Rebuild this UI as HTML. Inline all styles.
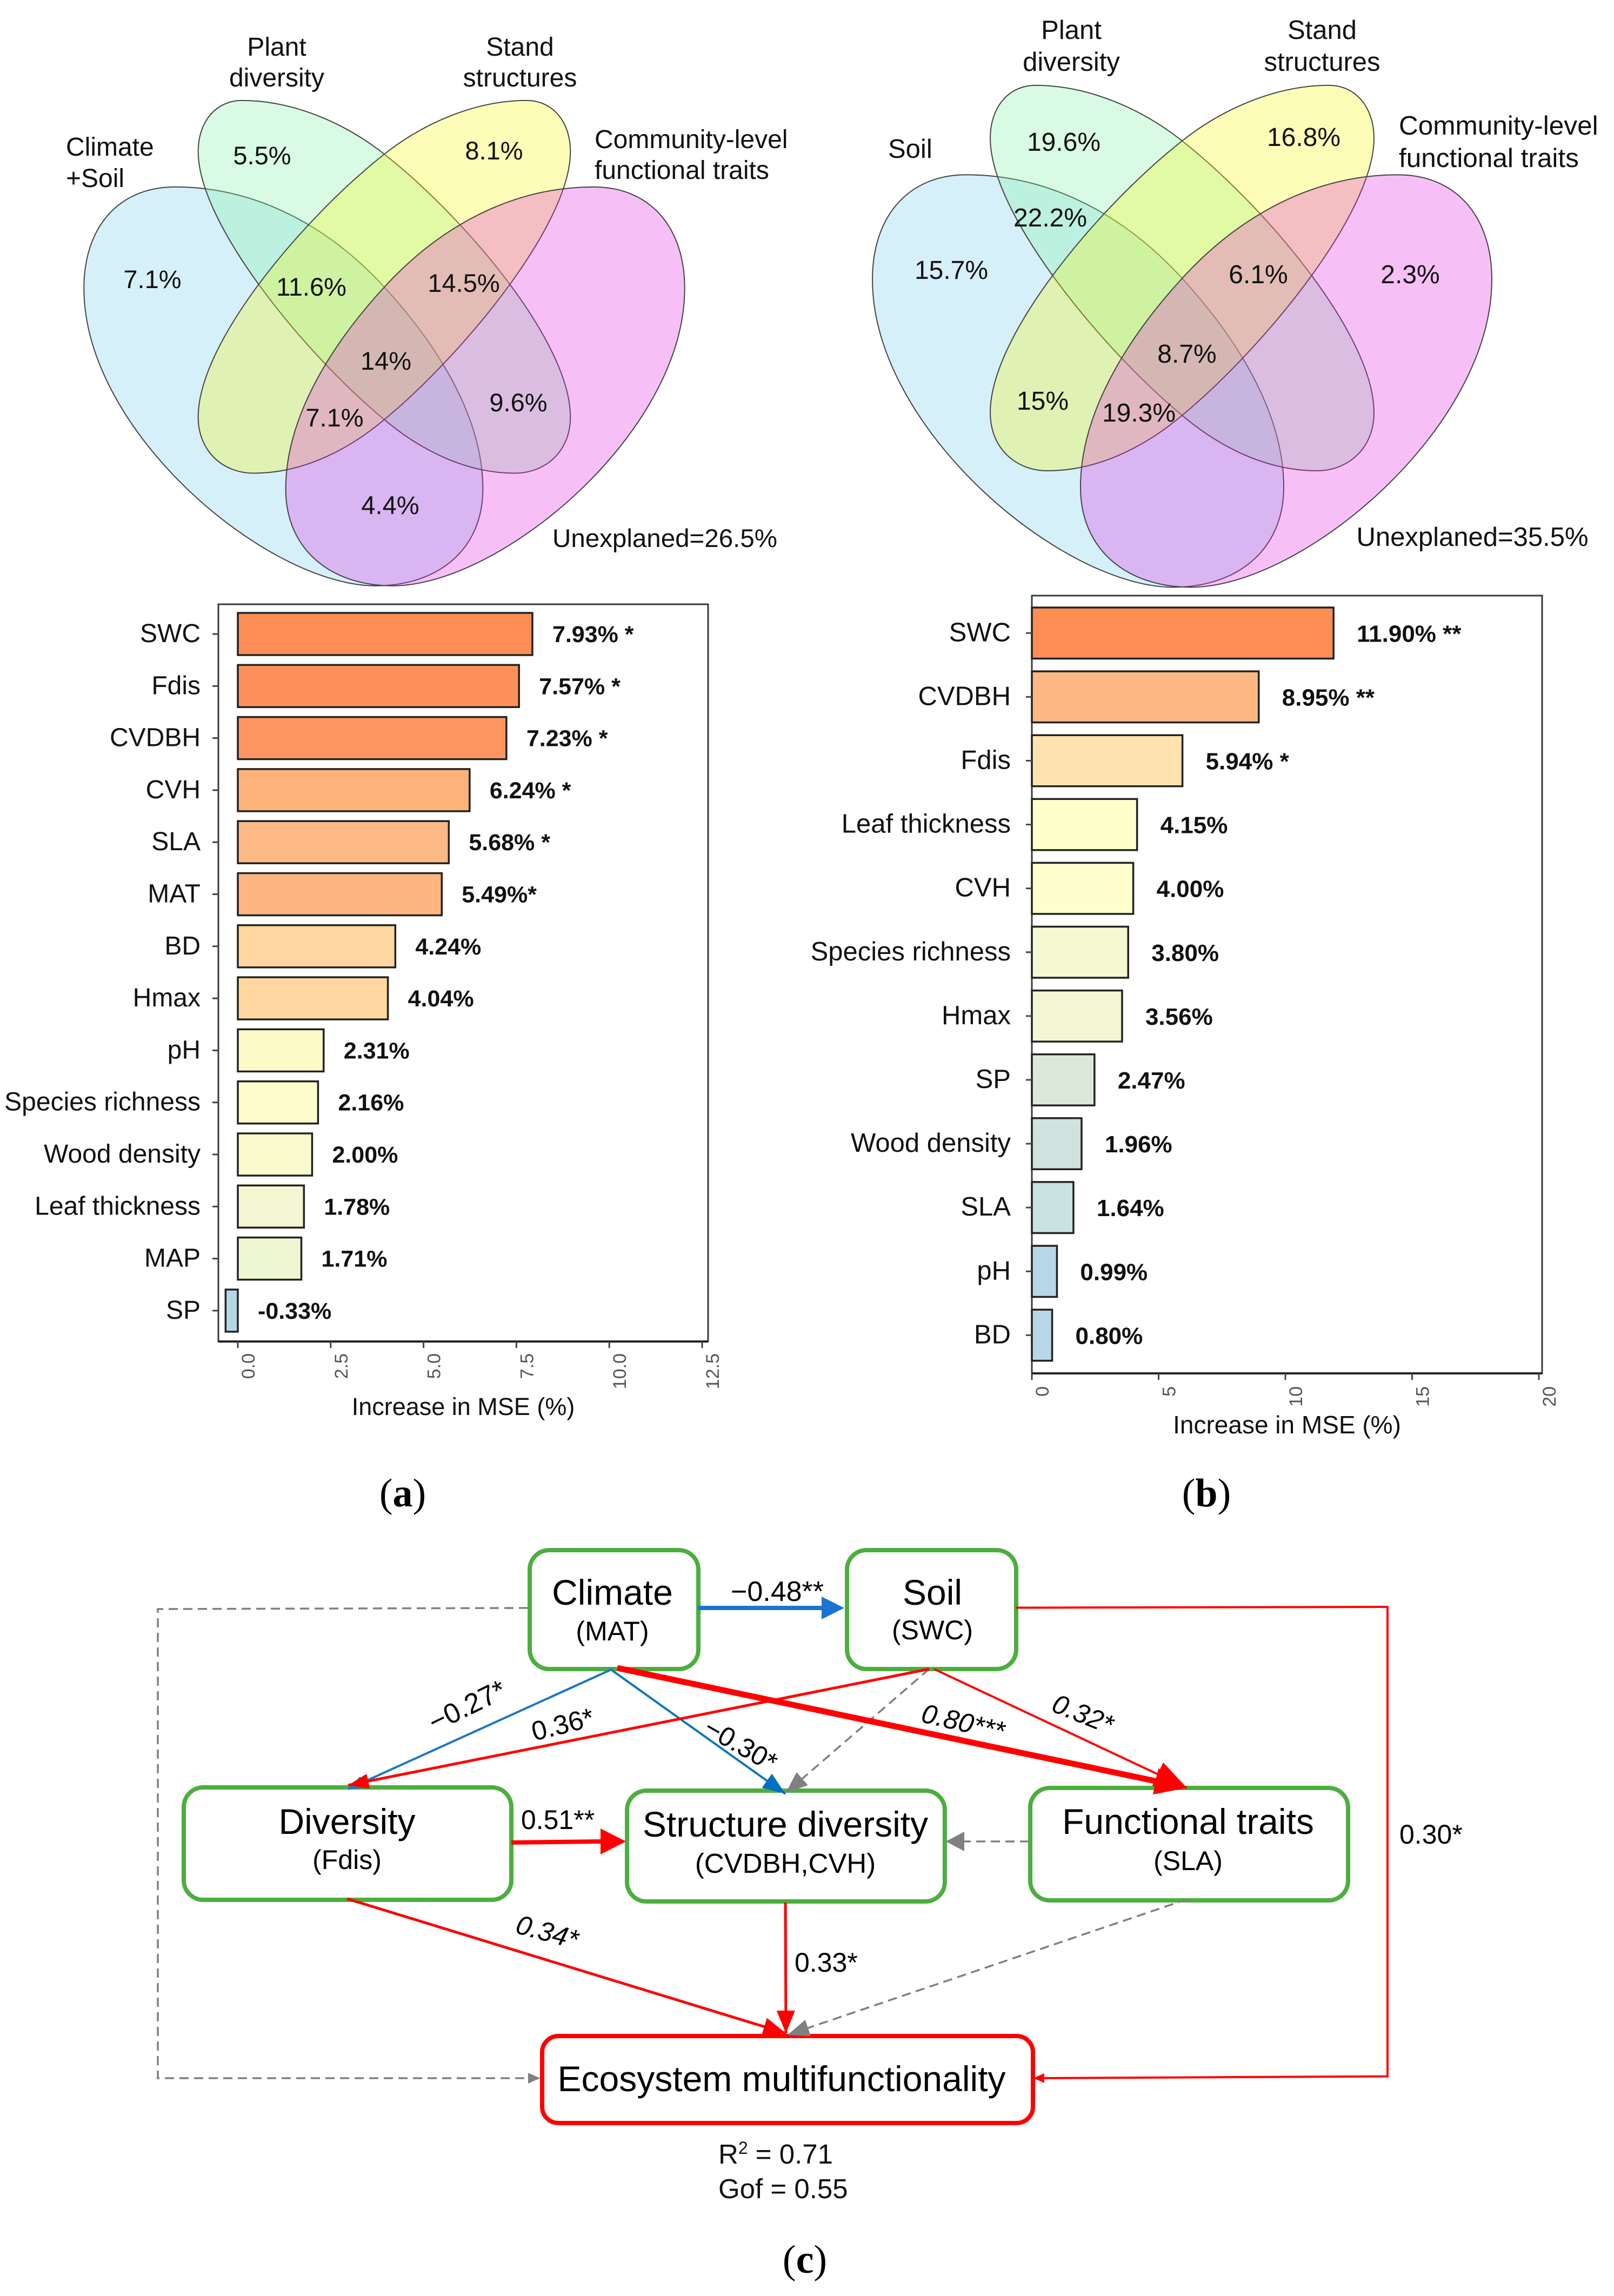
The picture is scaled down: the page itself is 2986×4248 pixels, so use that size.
<!DOCTYPE html>
<html lang="en">
<head>
<meta charset="utf-8">
<title>Variance partitioning, variable importance and structural equation model</title>
<style>
html,body{margin:0;padding:0;background:#fff;}
svg{display:block;}
text{font-family:"Liberation Sans",sans-serif;fill:#111;}
.cap{font-family:"Liberation Serif",serif;font-size:74px;fill:#000;}
.v1{font-size:46px;}
.v2{font-size:49px;}
.n{font-size:66px;fill:#000;}
.s{font-size:50px;fill:#000;}
.e{font-size:50px;fill:#000;}
.vp{fill-opacity:.3;stroke:#444;stroke-width:2;vector-effect:non-scaling-stroke;}
.gbox{fill:none;stroke:#4cae3f;stroke-width:8;}
.ln{fill:none;}
</style>
</head>
<body>
<svg id="figure" xmlns="http://www.w3.org/2000/svg" width="2986" height="4248" viewBox="0 0 2986 4248">
<defs>
<marker id="red60" markerUnits="userSpaceOnUse" viewBox="0 -24 60 48" markerWidth="60" markerHeight="48" refX="60" refY="0" orient="auto"><path d="M0,-24L60,0L0,24Z" fill="#f00"/></marker>
<marker id="red42" markerUnits="userSpaceOnUse" viewBox="0 -17 42 34" markerWidth="42" markerHeight="34" refX="42" refY="0" orient="auto"><path d="M0,-17L42,0L0,17Z" fill="#f00"/></marker>
<marker id="red38" markerUnits="userSpaceOnUse" viewBox="0 -14 38 28" markerWidth="38" markerHeight="28" refX="38" refY="0" orient="auto"><path d="M0,-14L38,0L0,14Z" fill="#f00"/></marker>
<marker id="red20" markerUnits="userSpaceOnUse" viewBox="0 -9 20 18" markerWidth="20" markerHeight="18" refX="20" refY="0" orient="auto"><path d="M0,-9L20,0L0,9Z" fill="#f00"/></marker>
<marker id="blue30" markerUnits="userSpaceOnUse" viewBox="0 -12 30 24" markerWidth="30" markerHeight="24" refX="30" refY="0" orient="auto"><path d="M0,-12L30,0L0,12Z" fill="#1b75c8"/></marker>
<marker id="blue42" markerUnits="userSpaceOnUse" viewBox="0 -16 42 32" markerWidth="42" markerHeight="32" refX="42" refY="0" orient="auto"><path d="M0,-16L42,0L0,16Z" fill="#0070c0"/></marker>
<marker id="grey40" markerUnits="userSpaceOnUse" viewBox="0 -16 40 32" markerWidth="40" markerHeight="32" refX="40" refY="0" orient="auto"><path d="M0,-16L40,0L0,16Z" fill="#808080"/></marker>
<marker id="grey34" markerUnits="userSpaceOnUse" viewBox="0 -18 34 36" markerWidth="34" markerHeight="36" refX="34" refY="0" orient="auto"><path d="M0,-18L34,0L0,18Z" fill="#808080"/></marker>
<marker id="grey22" markerUnits="userSpaceOnUse" viewBox="0 -10 22 20" markerWidth="22" markerHeight="20" refX="22" refY="0" orient="auto"><path d="M0,-10L22,0L0,10Z" fill="#808080"/></marker>
</defs>
<rect width="2986" height="4248" fill="#fff"/>

<!-- Venn A -->
<g>
<g transform="matrix(.9524 0 0 .7015 0 0)">
<path class="vp" fill="#76cdee" d="M340,493C500,493 640,600 745,755C840,895 938,1090 938,1290C938,1450 850,1545 730,1545C520,1545 163,1140 163,760C163,600 230,493 340,493Z"/>
<path class="vp" fill="#80f2a2" d="M470,265C570,265 670,325 745,405C900,570 1108,900 1108,1100C1108,1190 1060,1248 1000,1248C900,1248 810,1180 745,1105C590,930 385,590 385,400C385,320 420,265 470,265Z"/>
<path class="vp" fill="#f8f812" transform="matrix(-1 0 0 1 1493 0)" d="M470,265C570,265 670,325 745,405C900,570 1108,900 1108,1100C1108,1190 1060,1248 1000,1248C900,1248 810,1180 745,1105C590,930 385,590 385,400C385,320 420,265 470,265Z"/>
<path class="vp" fill="#e12de1" transform="matrix(-1 0 0 1 1493 0)" d="M340,493C500,493 640,600 745,755C840,895 938,1090 938,1290C938,1450 850,1545 730,1545C520,1545 163,1140 163,760C163,600 230,493 340,493Z"/>
</g>
<g class="v1" font-size="48">
<text x="512" y="103" text-anchor="middle" font-size="48">Plant</text>
<text x="512" y="160" text-anchor="middle" font-size="48">diversity</text>
<text x="962" y="103" text-anchor="middle" font-size="48">Stand</text>
<text x="962" y="160" text-anchor="middle" font-size="48">structures</text>
<text x="122" y="288" font-size="48">Climate</text>
<text x="122" y="346" font-size="48">+Soil</text>
<text x="1100" y="274" font-size="48">Community-level</text>
<text x="1100" y="331" font-size="48">functional traits</text>
<text x="485" y="304" text-anchor="middle" font-size="47">5.5%</text>
<text x="914" y="295" text-anchor="middle" font-size="47">8.1%</text>
<text x="282" y="533" text-anchor="middle" font-size="47">7.1%</text>
<text x="576" y="547" text-anchor="middle" font-size="47">11.6%</text>
<text x="858" y="540" text-anchor="middle" font-size="47">14.5%</text>
<text x="714" y="684" text-anchor="middle" font-size="47">14%</text>
<text x="959" y="761" text-anchor="middle" font-size="47">9.6%</text>
<text x="619" y="789" text-anchor="middle" font-size="47">7.1%</text>
<text x="722" y="951" text-anchor="middle" font-size="47">4.4%</text>
<text x="1230" y="1012" text-anchor="middle" font-size="47.5">Unexplaned=26.5%</text>
</g>
</g>

<!-- Venn B -->
<g>
<g transform="matrix(.9819 0 0 .7254 1454 -34.3)">
<path class="vp" fill="#76cdee" d="M340,493C500,493 640,600 745,755C840,895 938,1090 938,1290C938,1450 850,1545 730,1545C520,1545 163,1140 163,760C163,600 230,493 340,493Z"/>
<path class="vp" fill="#80f2a2" d="M470,265C570,265 670,325 745,405C900,570 1108,900 1108,1100C1108,1190 1060,1248 1000,1248C900,1248 810,1180 745,1105C590,930 385,590 385,400C385,320 420,265 470,265Z"/>
<path class="vp" fill="#f8f812" transform="matrix(-1 0 0 1 1493 0)" d="M470,265C570,265 670,325 745,405C900,570 1108,900 1108,1100C1108,1190 1060,1248 1000,1248C900,1248 810,1180 745,1105C590,930 385,590 385,400C385,320 420,265 470,265Z"/>
<path class="vp" fill="#e12de1" transform="matrix(-1 0 0 1 1493 0)" d="M340,493C500,493 640,600 745,755C840,895 938,1090 938,1290C938,1450 850,1545 730,1545C520,1545 163,1140 163,760C163,600 230,493 340,493Z"/>
</g>
<text x="1982" y="72" text-anchor="middle" font-size="49">Plant</text>
<text x="1982" y="131" text-anchor="middle" font-size="49">diversity</text>
<text x="2446" y="72" text-anchor="middle" font-size="49">Stand</text>
<text x="2446" y="131" text-anchor="middle" font-size="49">structures</text>
<text x="1643" y="292" font-size="49">Soil</text>
<text x="2588" y="249" font-size="49.5">Community-level</text>
<text x="2588" y="309" font-size="49.5">functional traits</text>
<text x="1968" y="279" text-anchor="middle" font-size="48">19.6%</text>
<text x="2412" y="270" text-anchor="middle" font-size="48">16.8%</text>
<text x="1943" y="419" text-anchor="middle" font-size="48">22.2%</text>
<text x="1760" y="516" text-anchor="middle" font-size="48">15.7%</text>
<text x="2328" y="524" text-anchor="middle" font-size="48">6.1%</text>
<text x="2609" y="524" text-anchor="middle" font-size="48">2.3%</text>
<text x="2196" y="671" text-anchor="middle" font-size="48">8.7%</text>
<text x="1929" y="758" text-anchor="middle" font-size="48">15%</text>
<text x="2107" y="780" text-anchor="middle" font-size="48">19.3%</text>
<text x="2724" y="1010" text-anchor="middle" font-size="49">Unexplaned=35.5%</text>
</g>

<!-- Bar charts are drawn here by script -->
<g id="chart-a"></g>
<g id="chart-b"></g>

<text class="cap" x="745" y="2787" text-anchor="middle">(<tspan font-weight="bold">a</tspan>)</text>
<text class="cap" x="2232" y="2787" text-anchor="middle">(<tspan font-weight="bold">b</tspan>)</text>
<text class="cap" x="1489" y="4205" text-anchor="middle">(<tspan font-weight="bold">c</tspan>)</text>

<!-- Path diagram -->
<g>
<rect class="gbox" x="980" y="2868" width="312" height="220" rx="36"/>
<rect class="gbox" x="1567" y="2868" width="313" height="220" rx="36"/>
<rect class="gbox" x="340" y="3307" width="606" height="208" rx="36"/>
<rect class="gbox" x="1160" y="3313" width="588" height="205" rx="36"/>
<rect class="gbox" x="1906" y="3308" width="588" height="208" rx="36"/>
<rect fill="none" stroke="#f00" stroke-width="8" x="1003" y="3767" width="908" height="161" rx="30"/>

<polyline class="ln" points="977,2975 292,2977 292,3845 999,3845" stroke="#808080" stroke-width="3.5" stroke-dasharray="17 10" marker-end="url(#grey22)"/>
<line x1="1291" y1="2975" x2="1522" y2="2975" stroke="#1b75d0" stroke-width="8"/>
<polygon points="1520,2954 1562,2975 1520,2996" fill="#1b75d0"/>
<line x1="1133" y1="3088" x2="644" y2="3310" stroke="#1b75c8" stroke-width="4" marker-end="url(#blue30)"/>
<line x1="1133" y1="3091" x2="1453" y2="3319" stroke="#0f75c0" stroke-width="4" marker-end="url(#blue42)"/>
<line x1="1719" y1="3088" x2="1454" y2="3317" stroke="#808080" stroke-width="3.5" stroke-dasharray="17 10" marker-end="url(#grey40)"/>
<line x1="1719" y1="3088" x2="644" y2="3303" stroke="#f00" stroke-width="5" marker-end="url(#red38)"/>
<line x1="1728" y1="3088" x2="2196" y2="3308" stroke="#f00" stroke-width="4" marker-end="url(#red60)"/>
<line x1="1142" y1="3086" x2="2160" y2="3300" stroke="#f00" stroke-width="11"/>
<polygon points="2143,3272 2196,3308 2133,3320" fill="#f00"/>
<line x1="1904" y1="3407" x2="1750" y2="3407" stroke="#808080" stroke-width="3.5" stroke-dasharray="17 10" marker-end="url(#grey34)"/>
<line x1="946" y1="3409" x2="1115" y2="3407" stroke="#f00" stroke-width="8"/>
<polygon points="1111,3383 1158,3407 1111,3431" fill="#f00"/>
<line x1="642" y1="3513" x2="1454" y2="3762" stroke="#f00" stroke-width="5" marker-end="url(#red42)"/>
<line x1="1453" y1="3520" x2="1454" y2="3762" stroke="#f00" stroke-width="5" marker-end="url(#red42)"/>
<line x1="2196" y1="3514" x2="1457" y2="3765" stroke="#808080" stroke-width="3.5" stroke-dasharray="17 10" marker-end="url(#grey40)"/>
<polyline class="ln" points="1879,2974.5 2567,2973 2567,3841.6 1912,3845" stroke="#f00" stroke-width="4" marker-end="url(#red20)"/>

<text class="n" x="1133" y="2969" text-anchor="middle">Climate</text>
<text class="s" x="1133" y="3035" text-anchor="middle">(MAT)</text>
<text class="n" x="1725" y="2969" text-anchor="middle">Soil</text>
<text class="s" x="1725" y="3033" text-anchor="middle">(SWC)</text>
<text class="n" x="642" y="3393" text-anchor="middle">Diversity</text>
<text class="s" x="642" y="3458" text-anchor="middle">(Fdis)</text>
<text class="n" x="1453" y="3398" text-anchor="middle" font-size="67">Structure diversity</text>
<text class="s" x="1453" y="3465" text-anchor="middle" font-size="51" style="font-size:51px">(CVDBH,CVH)</text>
<text class="n" x="2198" y="3393" text-anchor="middle">Functional traits</text>
<text class="s" x="2198" y="3460" text-anchor="middle">(SLA)</text>
<text class="n" x="1446" y="3869" text-anchor="middle">Ecosystem multifunctionality</text>
<text x="1329" y="4003" font-size="51" fill="#000">R<tspan font-size="32" dy="-18">2</tspan><tspan dy="18"> = 0.71</tspan></text>
<text x="1329" y="4067" font-size="51">Gof = 0.55</text>

<text class="e" x="1438" y="2962" text-anchor="middle" style="font-size:52px">−0.48**</text>
<text class="e" text-anchor="middle" transform="translate(872 3172) rotate(-26)" style="font-size:52px">−0.27*</text>
<text class="e" text-anchor="middle" transform="translate(1045 3207) rotate(-14)">0.36*</text>
<text class="e" text-anchor="middle" transform="translate(1362 3243) rotate(30)">−0.30*</text>
<text class="e" font-style="italic" text-anchor="middle" transform="translate(1778 3203) rotate(13)">0.80***</text>
<text class="e" font-style="italic" text-anchor="middle" transform="translate(1997 3187) rotate(22)">0.32*</text>
<text class="e" x="1032" y="3384" text-anchor="middle">0.51**</text>
<text class="e" font-style="italic" text-anchor="middle" transform="translate(1008 3591) rotate(15)">0.34*</text>
<text class="e" x="1470" y="3648">0.33*</text>
<text class="e" x="2589" y="3411">0.30*</text>
</g>

<script>
const categoriesA = ['SWC','Fdis','CVDBH','CVH','SLA','MAT','BD','Hmax','pH','Species richness','Wood density','Leaf thickness','MAP','SP'];
const valuesA = [7.93,7.57,7.23,6.24,5.68,5.49,4.24,4.04,2.31,2.16,2.00,1.78,1.71,-0.33];
const significanceA = [' *',' *',' *',' *',' *','*','','','','','','','',''];
const tickValuesA = [0,2.5,5,7.5,10,12.5];
const barPaletteA = ['#fd8d55','#fd9059','#fd9660','#fdb27a','#fdb985','#fdb682','#fed7a0','#fed8a0','#fefac8','#fefcca','#f9fbce','#f3f6d0','#eff6d2','#b5d6e6'];

const categoriesB = ['SWC','CVDBH','Fdis','Leaf thickness','CVH','Species richness','Hmax','SP','Wood density','SLA','pH','BD'];
const valuesB = [11.90,8.95,5.94,4.15,4.00,3.80,3.56,2.47,1.96,1.64,0.99,0.80];
const significanceB = [' **',' **',' *','','','','','','','','',''];
const tickValuesB = [0,5,10,15,20];
const barPaletteB = ['#fd8d52','#fdb782','#fee3b0','#feffca','#feffcc','#f5f8d0','#f4f6d2','#dce9da','#d0e2de','#cbe2e2','#b7d7e8','#b7d7e8'];

const SVGNS = 'http://www.w3.org/2000/svg';
function make(parent, tag, attrs, content) {
  const el = document.createElementNS(SVGNS, tag);
  for (const key in attrs) el.setAttribute(key, attrs[key]);
  if (content !== undefined) el.textContent = content;
  parent.appendChild(el);
  return el;
}

function drawChart(root, categories, values, significance, ticks, palette, layout) {
  const xScale = v => layout.x0 + (v - layout.domainMin) * (layout.x1 - layout.x0) / (layout.domainMax - layout.domainMin);
  const bandTop = i => layout.barTop + i * layout.step;

  const frame = make(root, 'rect', {x: layout.left, y: layout.top, width: layout.right - layout.left, height: layout.bottom - layout.top, fill: 'none', stroke: '#3a3a3a', 'stroke-width': 3});
  
  
  const baseLine = make(root, 'line', {x1: layout.left, x2: layout.right, y1: layout.bottom, y2: layout.bottom, stroke: '#222', 'stroke-width': 4});
  
  

  categories.forEach((category, i) => {
    const value = values[i];
    const top = bandTop(i);
    const mid = top + layout.barH / 2;
    const zero = xScale(0);
    const end = xScale(value);
    const bar = make(root, 'rect', {x: Math.min(zero, end), y: top, width: Math.abs(end - zero), height: layout.barH, fill: palette[i], stroke: '#222', 'stroke-width': 3.5});
    
    

    const tick = make(root, 'line', {x1: layout.left - 11, x2: layout.left, y1: mid, y2: mid, stroke: '#444', 'stroke-width': 3});
    
    

    const catLabel = make(root, 'text', {x: layout.catRight, y: mid + layout.catDy, 'text-anchor': 'end', 'font-size': layout.catFont}, category);
    
    

    const valLabel = make(root, 'text', {x: Math.max(zero, end) + layout.valGap, y: mid + layout.valDy, 'font-size': layout.valFont, 'font-weight': 'bold'}, value.toFixed(2) + '%' + significance[i]);
    
    
  });

  ticks.forEach(t => {
    const px = xScale(t);
    const tick = make(root, 'line', {x1: px, x2: px, y1: layout.bottom, y2: layout.bottom + 12, stroke: '#444', 'stroke-width': 3});
    
    
    const label = make(root, 'text', {x: px + 31, y: layout.tickTop, 'text-anchor': 'end', 'font-size': 34, transform: 'rotate(-90 ' + (px + 31) + ' ' + layout.tickTop + ')', style: 'fill:#555'}, t.toFixed(layout.decimals));
    
    
  });

  const title = make(root, 'text', {x: layout.titleX, y: layout.titleY, 'text-anchor': 'middle', 'font-size': layout.titleFont}, 'Increase in MSE (%)');
  
  
}

drawChart(document.getElementById('chart-a'), categoriesA, valuesA, significanceA, tickValuesA, barPaletteA, {
  left: 404, right: 1310, top: 1118, bottom: 2482,
  x0: 440, x1: 1299, domainMin: 0, domainMax: 12.5,
  barTop: 1134, step: 96.3, barH: 78,
  catRight: 371, catDy: 15, catFont: 48,
  valGap: 37, valDy: 15, valFont: 43,
  tickTop: 2504, decimals: 1,
  titleX: 857, titleY: 2618, titleFont: 45
});
drawChart(document.getElementById('chart-b'), categoriesB, valuesB, significanceB, tickValuesB, barPaletteB, {
  left: 1909, right: 2853, top: 1102, bottom: 2541,
  x0: 1909, x1: 2847, domainMin: 0, domainMax: 20,
  barTop: 1124, step: 118.1, barH: 94.5,
  catRight: 1870, catDy: 15, catFont: 49,
  valGap: 43, valDy: 16, valFont: 44,
  tickTop: 2565, decimals: 0,
  titleX: 2381, titleY: 2652, titleFont: 46
});
</script>
</svg>
</body>
</html>
